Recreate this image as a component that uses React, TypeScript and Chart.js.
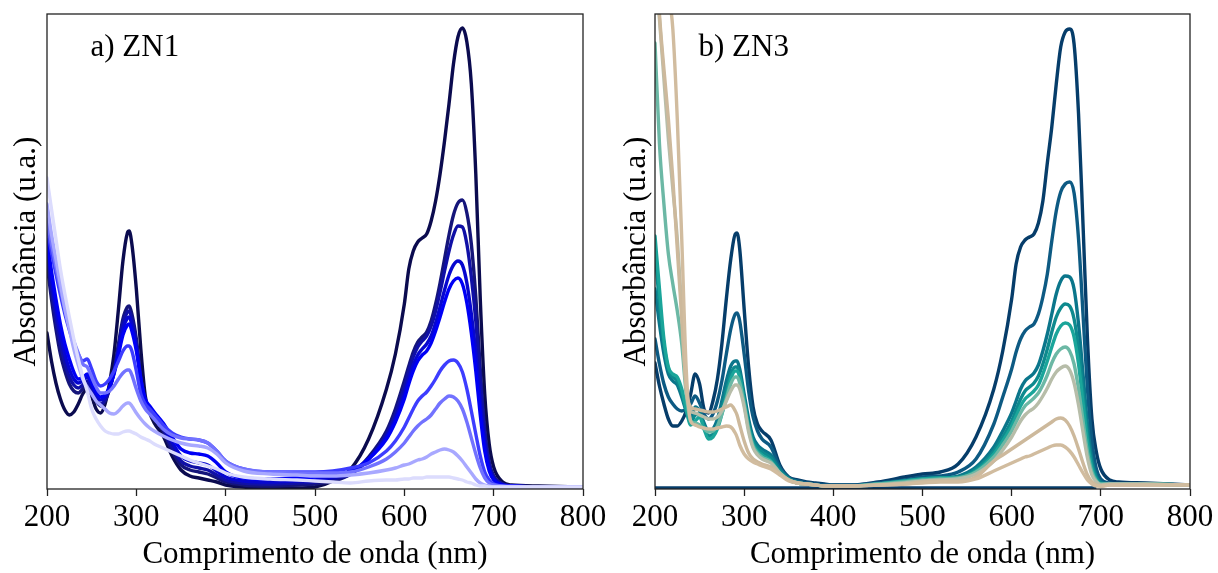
import React, { useEffect, useRef } from "react";
import { Chart, registerables } from "chart.js";

Chart.register(...registerables);

// Wavelength grid (nm) shared by every spectrum
const WAVELENGTHS = [
  200, 205, 210, 215, 220, 225, 230, 235, 240, 245, 250, 255, 260, 265, 270, 275, 280, 285, 290,
  292, 295, 300, 305, 310, 315, 320,
  330, 340, 350, 360, 370, 380, 390, 400,
  420, 450, 480, 500, 520, 540, 560, 580, 590,
  600, 605, 610, 615, 620, 625, 630, 635, 640, 645, 650, 655, 660, 665, 670, 675, 680, 685, 690, 695, 700,
  710, 720, 750, 800,
];

const X_TICKS = [200, 300, 400, 500, 600, 700, 800];

// ---- a) ZN1 (absorbance, arbitrary units) ----
const zn1_1 = [
  156, 128, 106, 90, 79, 74, 77, 85, 95, 100, 92, 80, 76, 85, 106, 135, 180, 228, 256,
  258, 245, 200, 140, 93, 76, 66,
  53, 33, 19, 13, 11, 9, 7, 4,
  2, 1, 1, 2, 8, 20, 50, 100, 135,
  185, 220, 238, 247, 251, 255, 268, 288, 315, 348, 385, 425, 452, 461, 447, 405, 315, 190, 95, 45, 22,
  7, 4, 3, 2,
];
const zn1_2 = [
  225, 190, 160, 135, 118, 105, 98, 96, 100, 105, 98, 88, 83, 88, 100, 118, 145, 170, 182,
  183, 175, 150, 112, 88, 78, 72,
  58, 38, 24, 19, 17, 15, 11, 7,
  4, 3, 4, 5, 8, 15, 32, 58, 80,
  108, 123, 137, 147, 152, 157, 168, 185, 206, 230, 254, 274, 286, 289, 276, 245, 192, 120, 60, 27, 13,
  5, 3, 2, 2,
];
const zn1_3 = [
  238, 200, 170, 145, 126, 112, 104, 101, 104, 108, 100, 90, 85, 89, 100, 117, 142, 166, 177,
  178, 170, 146, 110, 88, 79, 73,
  60, 42, 28, 23, 21, 19, 14, 9,
  6, 5, 6, 7, 10, 15, 30, 55, 75,
  102, 118, 132, 142, 148, 153, 163, 178, 197, 218, 238, 254, 263, 262, 245, 212, 168, 108, 55, 25, 12,
  5, 3, 2, 2,
];
const zn1_4 = [
  245, 210, 180, 155, 135, 120, 110, 106, 108, 112, 104, 94, 89, 92, 101, 116, 138, 160, 171,
  172, 164, 142, 110, 89, 81, 75,
  63, 47, 33, 28, 26, 24, 18, 12,
  8, 7, 8, 9, 12, 16, 30, 52, 70,
  95, 110, 124, 134, 140, 145, 153, 166, 182, 199, 214, 224, 228, 224, 206, 175, 136, 86, 45, 21, 10,
  4, 3, 2, 2,
];
const zn1_5 = [
  250, 218, 190, 165, 145, 130, 117, 110, 111, 115, 107, 97, 92, 94, 102, 115, 134, 154, 164,
  165, 158, 138, 110, 90, 83, 77,
  66, 52, 40, 36, 35, 33, 26, 17,
  11, 10, 11, 12, 14, 18, 30, 50, 67,
  90, 105, 118, 128, 134, 138, 146, 158, 172, 187, 200, 208, 211, 205, 186, 156, 118, 74, 38, 18, 9,
  4, 3, 2, 2,
];
const zn1_6 = [
  262, 237, 215, 194, 175, 159, 145, 135, 128, 130, 120, 108, 103, 105, 110, 118, 128, 138, 143,
  143, 138, 118, 95, 85, 80, 75,
  64, 56, 52, 50, 49, 46, 38, 28,
  20, 17, 17, 17, 18, 21, 26, 38, 48,
  62, 71, 80, 88, 93, 97, 103, 110, 118, 124, 128, 129, 126, 117, 100, 78, 55, 33, 17, 9, 5,
  3, 3, 2, 2,
];
const zn1_7 = [
  270, 245, 222, 200, 180, 163, 148, 136, 125, 122, 112, 102, 96, 96, 98, 103, 110, 116, 119,
  119, 114, 100, 88, 80, 75, 70,
  60, 54, 51, 50, 49, 46, 38, 28,
  20, 17, 16, 16, 16, 17, 22, 30, 37,
  46, 52, 58, 63, 67, 70, 74, 80, 86, 90, 93, 92, 88, 80, 67, 51, 35, 21, 11, 6, 4,
  3, 2, 2, 2,
];
const zn1_8 = [
  285, 255, 230, 205, 180, 160, 140, 124, 110, 102, 95, 88, 84, 80, 76, 75, 78, 83, 86,
  86, 83, 76, 70, 65, 61, 58,
  53, 49, 46, 44, 43, 41, 35, 26,
  18, 15, 14, 13, 13, 14, 16, 19, 21,
  24, 25, 27, 29, 30, 32, 35, 37, 39, 40, 39, 37, 33, 28, 22, 16, 10, 6, 4, 3, 2,
  2, 2, 2, 2,
];
const zn1_9 = [
  311, 280, 250, 220, 195, 172, 150, 130, 112, 98, 80, 70, 63, 58, 56, 55, 55, 57, 58,
  58, 57, 55, 52, 50, 48, 45,
  41, 37, 33, 29, 26, 23, 20, 16,
  12, 10, 9, 8, 7, 6, 8, 9, 9,
  10, 10, 11, 11, 11, 12, 12, 12, 12, 12, 12, 11, 10, 9, 7, 6, 4, 3, 3, 2, 2,
  2, 2, 2, 2,
];

// ---- b) ZN3 ----
const zn3_1 = [
  126, 103, 85, 70, 63, 63, 68, 78, 95, 115, 105, 80, 76, 88, 110, 145, 190, 230, 255,
  256, 240, 180, 122, 82, 65, 58,
  49, 24, 12, 9, 7, 6, 5, 4,
  4, 7, 12, 15, 17, 25, 52, 100, 138,
  190, 225, 242, 249, 252, 255, 266, 288, 326, 362, 405, 442, 457, 460, 445, 375, 265, 150, 70, 37, 20,
  9, 7, 6, 4,
];
const zn3_2 = [
  150, 125, 105, 92, 85, 80, 78, 80, 85, 93, 86, 75, 70, 75, 88, 108, 135, 160, 175,
  176, 168, 135, 98, 72, 58, 50,
  42, 22, 11, 8, 6, 5, 4, 4,
  4, 6, 9, 12, 13, 17, 30, 65, 92,
  120, 137, 150, 158, 162, 165, 175, 192, 215, 248, 278, 297, 305, 307, 296, 250, 175, 100, 48, 20, 10,
  6, 5, 5, 4,
];
const zn3_3 = [
  200, 165, 135, 115, 108, 104, 92, 78, 70, 82, 78, 66, 58, 60, 70, 88, 108, 123, 128,
  128, 120, 95, 70, 52, 44, 40,
  34, 20, 11, 7, 5, 4, 3, 3,
  3, 5, 8, 10, 11, 13, 22, 42, 58,
  76, 88, 100, 108, 112, 116, 124, 138, 155, 175, 195, 208, 213, 212, 200, 165, 115, 65, 30, 13, 7,
  5, 5, 5, 4,
];
const zn3_4 = [
  240, 185, 145, 120, 112, 108, 96, 79, 66, 74, 75, 63, 53, 55, 64, 80, 98, 115, 122,
  122, 115, 90, 65, 48, 41, 37,
  31, 18, 10, 6, 5, 4, 3, 3,
  3, 5, 8, 10, 11, 12, 20, 38, 52,
  68, 79, 90, 98, 102, 106, 113, 125, 140, 157, 172, 181, 185, 183, 170, 140, 97, 54, 25, 11, 6,
  5, 5, 5, 4,
];
const zn3_5 = [
  253, 200, 150, 122, 115, 112, 100, 80, 64, 68, 72, 60, 50, 52, 60, 75, 92, 110, 118,
  118, 112, 88, 62, 45, 38, 34,
  28, 16, 9, 6, 5, 4, 3, 3,
  3, 5, 8, 10, 11, 11, 18, 35, 48,
  63, 73, 83, 90, 94, 98, 104, 115, 128, 142, 155, 163, 166, 164, 152, 125, 86, 47, 21, 9, 5,
  5, 5, 5, 4,
];
const zn3_6 = [
  446, 345, 285, 235, 205, 178, 145, 95, 68, 66, 64, 60, 57, 58, 63, 75, 90, 105, 112,
  112, 106, 85, 60, 43, 36, 32,
  27, 16, 9, 6, 5, 4, 3, 3,
  3, 5, 7, 9, 10, 11, 17, 32, 44,
  58, 67, 76, 83, 87, 91, 96, 104, 114, 126, 135, 140, 142, 138, 125, 100, 68, 37, 17, 8, 5,
  5, 5, 5, 4,
];
const zn3_7 = [
  520, 470, 410, 350, 300, 250, 180, 100, 78, 76, 74, 72, 70, 70, 72, 78, 88, 98, 104,
  104, 100, 82, 57, 41, 34, 30,
  26, 16, 9, 6, 5, 4, 3, 3,
  3, 4, 6, 8, 9, 10, 15, 28, 39,
  52, 60, 68, 74, 78, 81, 86, 93, 101, 110, 117, 121, 123, 119, 106, 84, 57, 31, 14, 7, 4,
  5, 5, 5, 4,
];
const zn3_8 = [
  560, 475, 420, 370, 310, 240, 170, 100, 82, 80, 79, 78, 77, 77, 78, 80, 82, 84, 78,
  74, 64, 48, 36, 30, 27, 25,
  22, 15, 9, 6, 5, 4, 3, 3,
  3, 4, 5, 7, 8, 8, 12, 28, 34,
  40, 43, 46, 49, 52, 55, 58, 61, 64, 67, 70, 71, 69, 63, 53, 40, 26, 14, 7, 4, 3,
  4, 4, 4, 4,
];
const zn3_9 = [
  620, 600, 560, 500, 460, 370, 250, 120, 68, 64, 62, 61, 60, 60, 61, 62, 63, 62, 56,
  52, 44, 35, 30, 27, 25, 23,
  20, 14, 8, 6, 5, 4, 3, 3,
  3, 4, 5, 6, 7, 7, 10, 18, 22,
  26, 28, 30, 32, 33, 35, 37, 39, 41, 43, 44, 44, 42, 38, 32, 24, 16, 9, 5, 3, 3,
  4, 4, 4, 4,
];
const ZN3_BASE_WL = [200, 695];
const zn3_base = [1, 1];

const ZN1_SERIES = [zn1_1, zn1_2, zn1_3, zn1_4, zn1_5, zn1_6, zn1_7, zn1_8, zn1_9];
const ZN3_SERIES = [zn3_1, zn3_2, zn3_3, zn3_4, zn3_5, zn3_6, zn3_7, zn3_8, zn3_9];

const ZN1_COLORS = [
  "#0b0b4f", "#15157a", "#1010a6", "#0707cf", "#0000f5", "#3d3dff", "#7272ff", "#a8a8ff", "#dcdcfd",
];
const ZN3_COLORS = [
  "#063d6a", "#0d5a83", "#0b768b", "#0e8a8e", "#1aa59a", "#6cb8a5", "#b7bda9", "#cdb99c", "#d1bc9f",
];

const SERIF = "'Liberation Serif', 'Times New Roman', serif";
const H = 573;

type PanelProps = {
  label: string;
  series: number[][];
  colors: string[];
  canvasWidth: number;
  axisLeft: number;
  plotWidth: number;
  baseline?: { wl: number[]; values: number[]; color: string };
};

function SpectraPanel(props: PanelProps) {
  const ref = useRef<HTMLCanvasElement | null>(null);

  useEffect(() => {
    const canvas = ref.current;
    if (!canvas) return;
    const font = { family: SERIF, size: 31, weight: "normal" as const, lineHeight: 1.2 };
    const n = props.series.length;
    const datasets: any[] = props.series.map((vals, i) => ({
      label: props.label + " " + (i + 1),
      data: vals.map((v, j) => ({ x: WAVELENGTHS[j], y: v })),
      borderColor: props.colors[i],
      backgroundColor: props.colors[i],
      borderWidth: 3.4,
      pointRadius: 0,
      fill: false,
      cubicInterpolationMode: "monotone",
      borderCapStyle: "round",
      borderJoinStyle: "round",
      order: n - 1 - i,
    }));
    if (props.baseline) {
      const b = props.baseline;
      datasets.push({
        label: "base",
        data: b.values.map((v, j) => ({ x: b.wl[j], y: v })),
        borderColor: b.color,
        borderWidth: 3.4,
        pointRadius: 0,
        fill: false,
        order: 100,
      });
    }

    const framePlugin = {
      id: "frame",
      afterDatasetsDraw(chart: any) {
        const { ctx, chartArea } = chart;
        ctx.save();
        ctx.strokeStyle = "#222";
        ctx.lineWidth = 1.3;
        ctx.strokeRect(chartArea.left, chartArea.top, chartArea.right - chartArea.left, chartArea.bottom - chartArea.top);
        ctx.restore();
      },
    };
    const labelPlugin = {
      id: "panelLabel",
      afterDraw(chart: any) {
        const { ctx, chartArea } = chart;
        ctx.save();
        ctx.font = "31px " + SERIF;
        ctx.fillStyle = "#000";
        ctx.textAlign = "left";
        ctx.textBaseline = "alphabetic";
        ctx.fillText(props.label, chartArea.left + 43.5, 56);
        ctx.restore();
      },
    };

    const chart = new Chart(canvas, {
      type: "line",
      data: { datasets },
      options: {
        animation: false,
        responsive: false,
        maintainAspectRatio: false,
        devicePixelRatio: 1,
        events: [],
        layout: {
          padding: {
            left: 0,
            top: 14,
            right: props.canvasWidth - props.axisLeft - props.plotWidth,
            bottom: 0,
          },
        },
        plugins: { legend: { display: false }, tooltip: { enabled: false }, title: { display: false } },
        scales: {
          x: {
            type: "linear",
            min: 200,
            max: 800,
            afterBuildTicks: (s: any) => {
              s.ticks = X_TICKS.map((v) => ({ value: v }));
            },
            ticks: { font, color: "#000", padding: 3, maxRotation: 0, autoSkip: false },
            grid: { display: true, drawOnChartArea: false, drawTicks: true, tickLength: 7, tickColor: "#222", tickWidth: 1.3 },
            border: { display: false },
            title: { display: true, text: "Comprimento de onda (nm)", font, color: "#000", padding: { top: 0, bottom: 0 } },
            afterFit: (s: any) => {
              s.height = H - 489;
            },
          },
          y: {
            type: "linear",
            min: 0,
            max: 475,
            ticks: { display: false },
            grid: { display: false },
            border: { display: false },
            title: { display: true, text: "Absorbância (u.a.)", font, color: "#000", padding: { top: 8, bottom: 0 } },
            afterFit: (s: any) => {
              s.width = props.axisLeft;
            },
          },
        },
      } as any,
      plugins: [framePlugin, labelPlugin],
    });
    return () => chart.destroy();
  }, []);

  return <canvas ref={ref} width={props.canvasWidth} height={H} style={{ display: "block" }} />;
}

export default function App() {
  return (
    <div style={{ position: "fixed", left: 0, top: 0, width: 1218, height: H, background: "#fff" }}>
      <div style={{ position: "absolute", left: 0, top: 0 }}>
        <SpectraPanel label="a) ZN1" series={ZN1_SERIES} colors={ZN1_COLORS} canvasWidth={610} axisLeft={47} plotWidth={536} />
      </div>
      <div style={{ position: "absolute", left: 610, top: 0 }}>
        <SpectraPanel
          label="b) ZN3"
          series={ZN3_SERIES}
          colors={ZN3_COLORS}
          canvasWidth={608}
          axisLeft={45}
          plotWidth={535}
          baseline={{ wl: ZN3_BASE_WL, values: zn3_base, color: ZN3_COLORS[0] }}
        />
      </div>
    </div>
  );
}
